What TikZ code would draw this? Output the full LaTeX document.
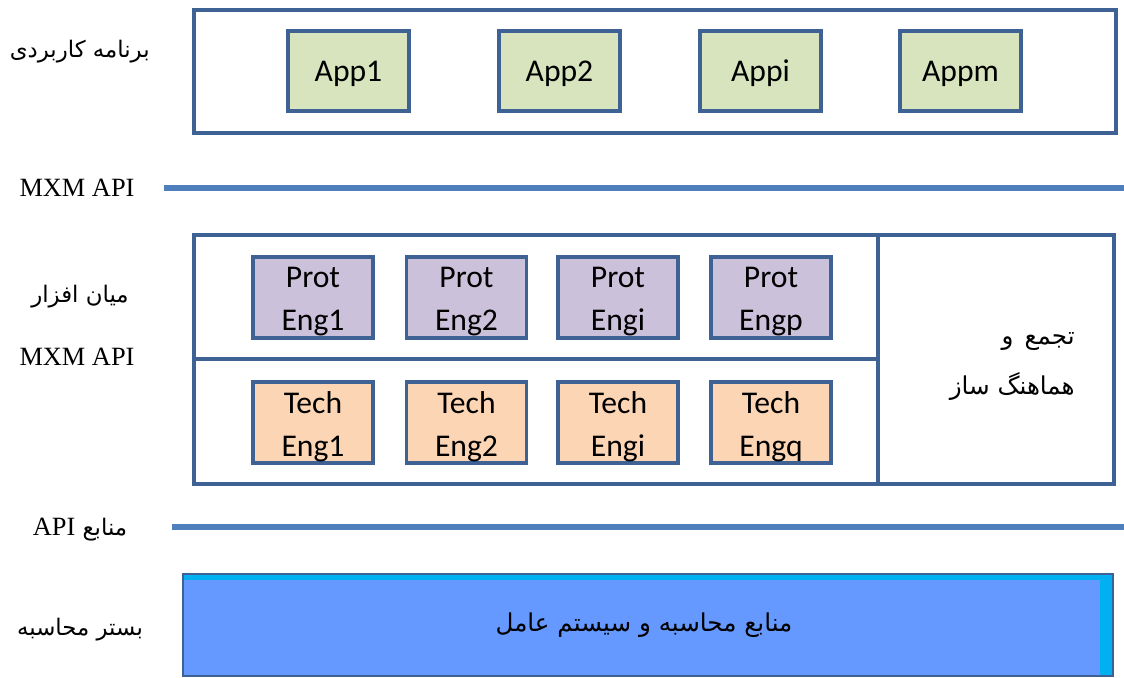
\documentclass[tikz,border=0pt]{standalone}
\usepackage{fontspec}
\setmainfont{Liberation Serif}
\newfontfamily\engfont{Carlito}
\newfontfamily\farsi[Script=Arabic]{DejaVu Sans}
\TeXXeTstate=1
\definecolor{frame}{HTML}{3E6294}
\definecolor{apiline}{HTML}{4F7FBC}
\definecolor{appfill}{HTML}{D7E4BD}
\definecolor{protfill}{HTML}{CCC1DA}
\definecolor{techfill}{HTML}{FCD5B5}
\definecolor{osfill}{HTML}{6699FF}
\definecolor{osband}{HTML}{00B0F0}
\tikzset{
  layerbox/.style={draw=frame, line width=1.9pt},
  boxtext/.style={inner sep=0pt, align=center, yshift=-2.5pt,
    font=\engfont\fontsize{18}{24.5}\selectfont},
  appbox/.style={draw=frame, line width=2pt, fill=appfill,
    minimum width=2.42cm, minimum height=1.6cm, inner sep=0pt},
  engbox/.style={draw=frame, line width=2pt,
    minimum width=2.4cm, minimum height=1.62cm, inner sep=0pt},
  protbox/.style={engbox, fill=protfill},
  techbox/.style={engbox, fill=techfill},
  apibar/.style={draw=apiline, line width=3pt},
  sidelabel/.style={inner sep=0pt, font=\fontsize{15}{18}\selectfont},
  falabel/.style={inner sep=0pt, font=\farsi\fontsize{13}{16}\selectfont},
  fabig/.style={inner sep=0pt, font=\farsi\fontsize{14}{17}\selectfont},
}
\begin{document}
\begin{tikzpicture}[x=0.02cm, y=-0.02cm]
\useasboundingbox (0,0) rectangle (1124,678);

% application layer
\draw[layerbox] (194,10) rectangle (1116,133);
\node[appbox] (app1) at (348.5,71) {};
\node[appbox] (app2) at (559.5,71) {};
\node[appbox] (appi) at (760.5,71) {};
\node[appbox] (appm) at (960.5,71) {};
\node[boxtext, yshift=1pt] (app1t) at (app1) {App1};
\node[boxtext, yshift=1pt] (app2t) at (app2) {App2};
\node[boxtext, yshift=1pt] (appit) at (appi) {Appi};
\node[boxtext, yshift=1pt] (appmt) at (appm) {Appm};
\node[falabel, anchor=east] (lapp) at (150,52) {\beginR برنامه کاربردی\endR};

% upper API
\coordinate (mxmL) at (164,188);
\coordinate (mxmR) at (1124,188);
\draw[apibar] (mxmL) -- (mxmR);
\node[sidelabel] (lmxm) at (77,188) {MXM API};

% middleware layer
\draw[layerbox] (194,235) rectangle (1114,484);
\draw[layerbox] (878,235) -- (878,484);
\draw[layerbox] (194,359) -- (878,359);
\node[protbox] (p1) at (313,297.5) {};
\node[protbox] (p2) at (466.5,297.5) {};
\node[protbox] (pi) at (618,297.5) {};
\node[protbox] (pp) at (771,297.5) {};
\node[techbox] (t1) at (313,422.5) {};
\node[techbox] (t2) at (466.5,422.5) {};
\node[techbox] (ti) at (618,422.5) {};
\node[techbox] (tq) at (771,422.5) {};
\node[boxtext] (p1t) at (p1) {Prot\\Eng1};
\node[boxtext] (p2t) at (p2) {Prot\\Eng2};
\node[boxtext] (pit) at (pi) {Prot\\Engi};
\node[boxtext] (ppt) at (pp) {Prot\\Engp};
\node[boxtext] (t1t) at (t1) {Tech\\Eng1};
\node[boxtext] (t2t) at (t2) {Tech\\Eng2};
\node[boxtext] (tit) at (ti) {Tech\\Engi};
\node[boxtext] (tqt) at (tq) {Tech\\Engq};
\node[fabig, anchor=east] (agg1) at (1075,341) {\beginR تجمع\hspace{0.45em}و\endR};
\node[fabig, anchor=east] (agg2) at (1075,386) {\beginR هماهنگ ساز\endR};
\node[falabel] (lmid) at (80,297) {\beginR میان افزار\endR};
\node[sidelabel] (lmxm2) at (77,357) {MXM API};

% resource API
\coordinate (resL) at (172,527);
\coordinate (resR) at (1124,527);
\draw[apibar, line width=3.3pt] (resL) -- (resR);
\node[falabel] (lres) at (80,530) {\beginR منابع \beginL\rmfamily\fontsize{15}{18}\selectfont API\endL\endR};

% computing platform
\fill[osband] (183,574) rectangle (1113,676);
\fill[osfill] (184,580) rectangle (1100,675);
\draw[draw=frame, line width=1.5pt] (183,574) rectangle (1113,676);
\node[fabig] (os) at (644,625) {\beginR منابع محاسبه و سیستم عامل\endR};
\node[falabel] (lplat) at (80,630) {\beginR بستر محاسبه\endR};
\end{tikzpicture}
\end{document}
